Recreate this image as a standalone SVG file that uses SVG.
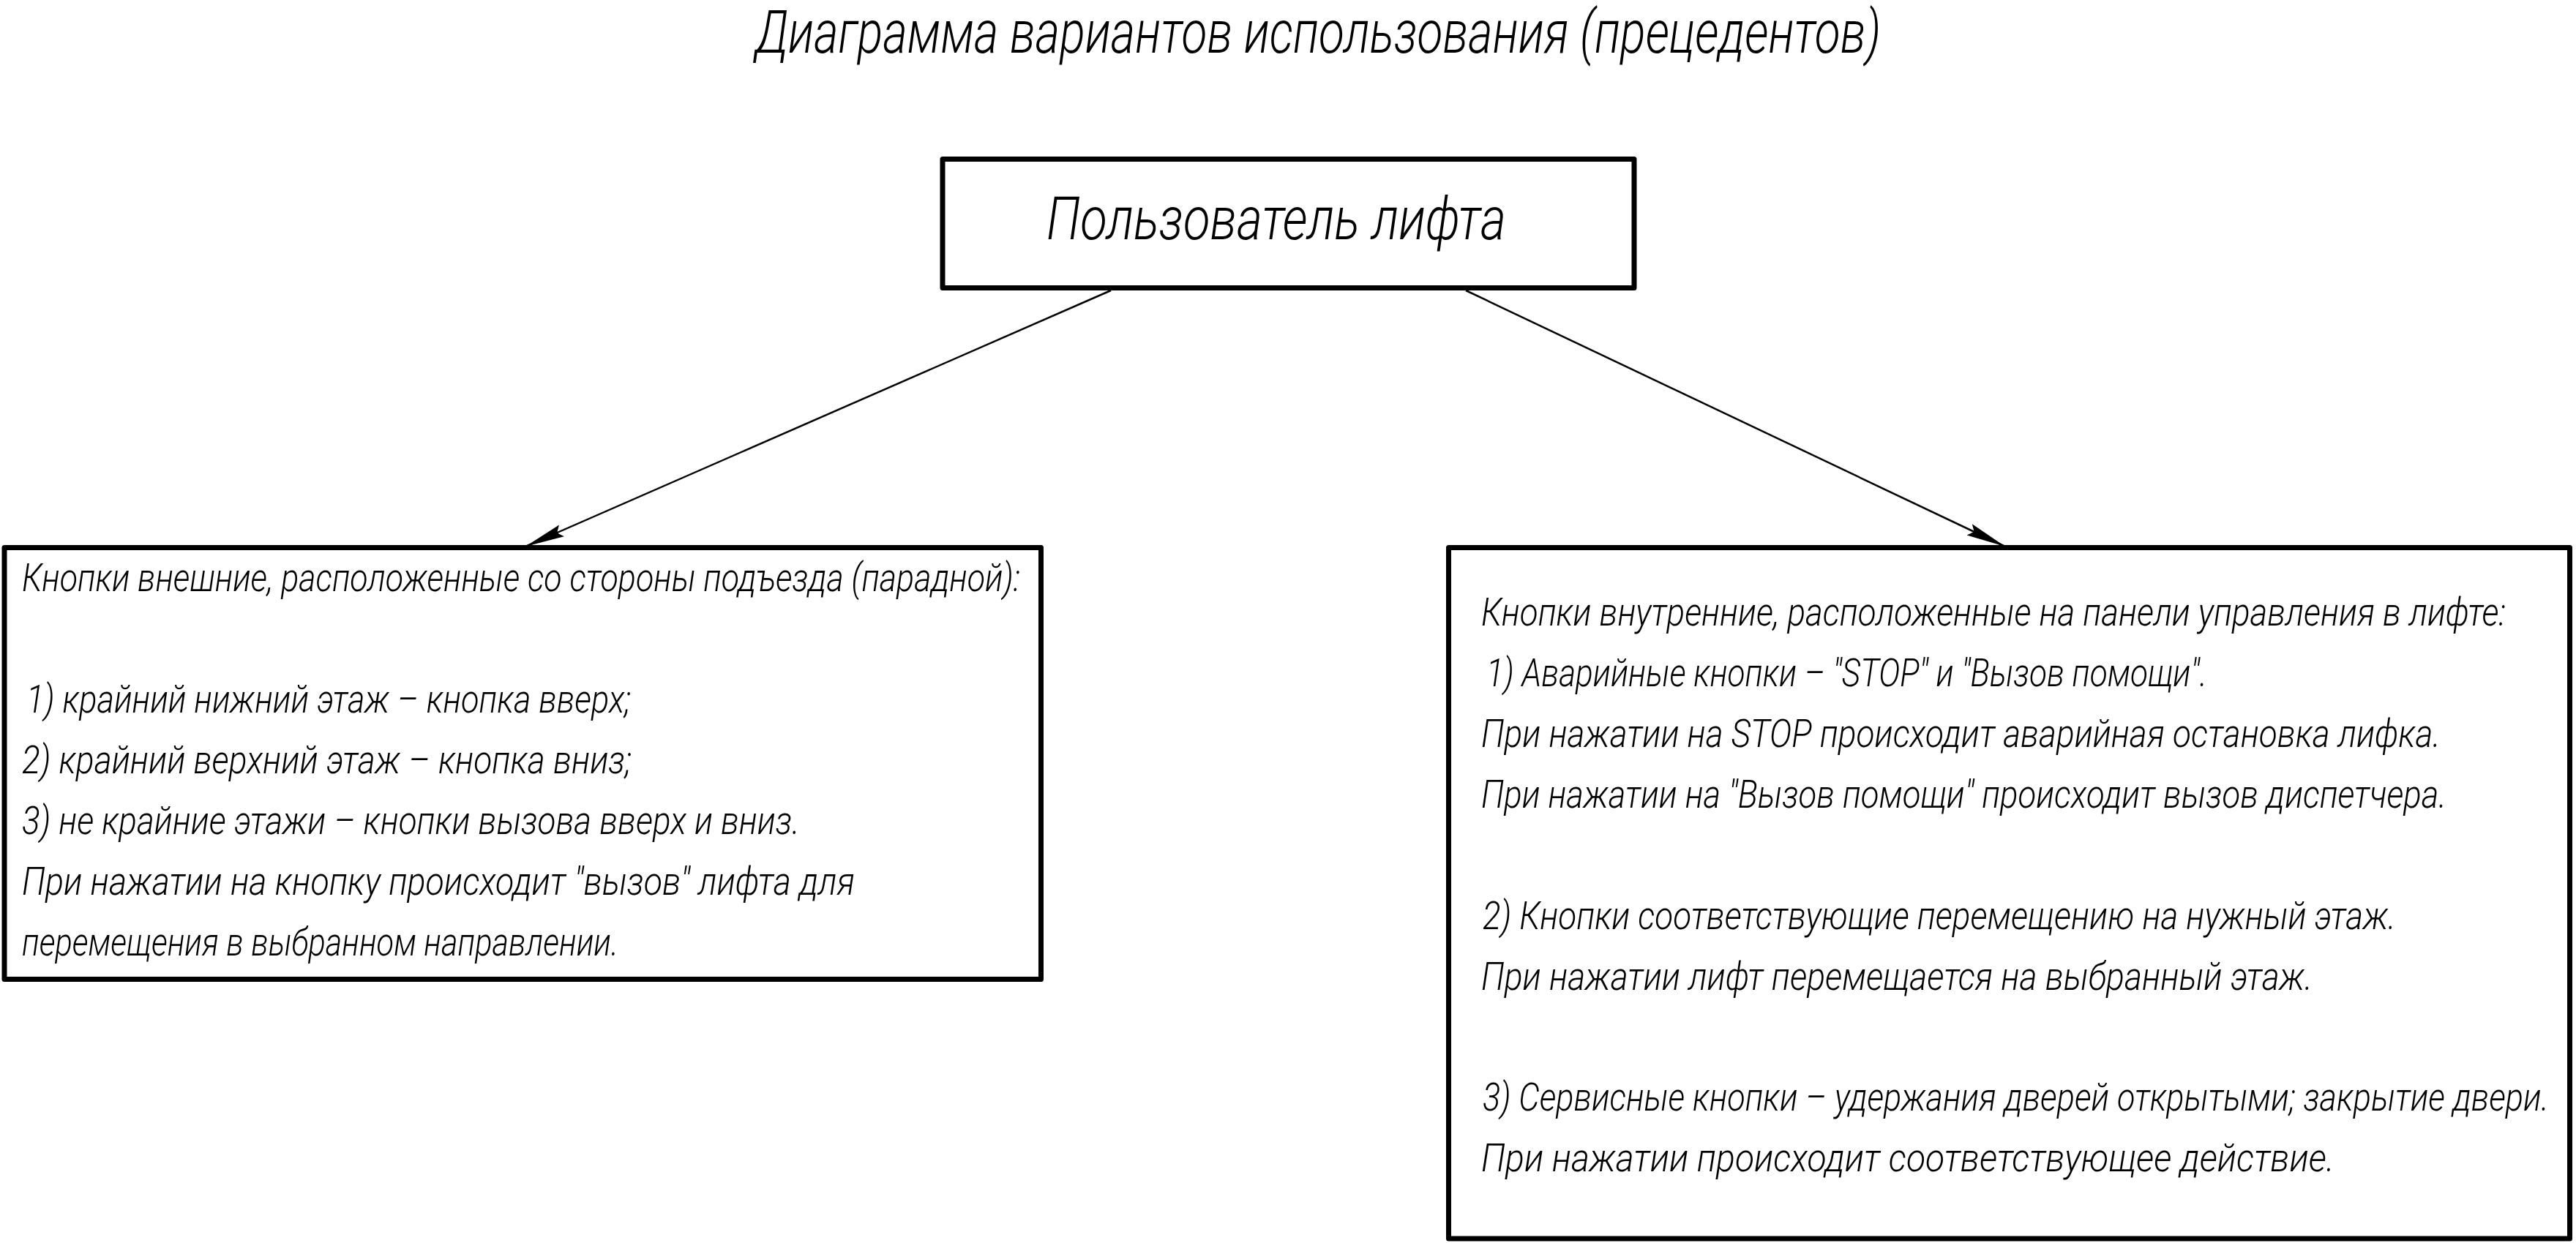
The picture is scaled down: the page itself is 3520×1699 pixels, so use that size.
<svg xmlns="http://www.w3.org/2000/svg" width="3520" height="1699" viewBox="0 0 3520 1699">
<style>
.box{fill:#fff;stroke:#000;stroke-width:7;stroke-linejoin:round}
.t{font-family:"Roboto","Liberation Sans",sans-serif;font-style:italic;font-weight:300;fill:#000}
.s{font-size:44px}
.b{font-size:82px}
.conn{stroke:#000;stroke-width:2.5;fill:none}
</style>
<defs>
<marker id="arr" markerUnits="userSpaceOnUse" markerWidth="80" markerHeight="40" viewBox="-70 -20 80 40" refX="0" refY="0" orient="auto">
<path d="M0,0 L-54,-8.5 L-47,0 L-54,8.5 Z" fill="#000"/>
</marker>
</defs>
<rect width="3520" height="1699" fill="#fff"/>
<text class="t b" x="1032" y="72" textLength="1538" lengthAdjust="spacingAndGlyphs">Диаграмма вариантов использования (прецедентов)</text>
<g id="connectors">
<line class="conn" x1="1518" y1="397" x2="718" y2="747" marker-end="url(#arr)"/>
<line class="conn" x1="2003" y1="397" x2="2740" y2="747" marker-end="url(#arr)"/>
</g>
<g id="actor">
<rect class="box" x="1288" y="217.5" width="945" height="176"/>
<text class="t b" x="1430" y="327" textLength="628" lengthAdjust="spacingAndGlyphs">Пользователь лифта</text>
</g>
<g id="external-buttons">
<rect class="box" x="6" y="748.5" width="1416.5" height="590"/>
<g transform="scale(1,1.227273)">
<text class="t s" x="30" y="658.37" textLength="1364" lengthAdjust="spacingAndGlyphs">Кнопки внешние, расположенные со стороны подъезда (парадной):</text>
<text class="t s" x="36" y="793.63" textLength="826" lengthAdjust="spacingAndGlyphs">1) крайний нижний этаж – кнопка вверх;</text>
<text class="t s" x="30" y="861.26" textLength="833" lengthAdjust="spacingAndGlyphs">2) крайний верхний этаж – кнопка вниз;</text>
<text class="t s" x="30" y="928.89" textLength="1063" lengthAdjust="spacingAndGlyphs">3) не крайние этажи – кнопки вызова вверх и вниз.</text>
<text class="t s" x="30" y="996.52" textLength="1138" lengthAdjust="spacingAndGlyphs">При нажатии на кнопку происходит "вызов" лифта для</text>
<text class="t s" x="30" y="1064.15" textLength="815" lengthAdjust="spacingAndGlyphs">перемещения в выбранном направлении.</text>
</g>
</g>
<g id="internal-buttons">
<rect class="box" x="1979.5" y="748.5" width="1532" height="944.5"/>
<g transform="scale(1,1.227273)">
<text class="t s" x="2024" y="696.67" textLength="1400" lengthAdjust="spacingAndGlyphs">Кнопки внутренние, расположенные на панели управления в лифте:</text>
<text class="t s" x="2031" y="764.30" textLength="985" lengthAdjust="spacingAndGlyphs">1) Аварийные кнопки – "STOP" и "Вызов помощи".</text>
<text class="t s" x="2024" y="831.93" textLength="1311" lengthAdjust="spacingAndGlyphs">При нажатии на STOP происходит аварийная остановка лифка.</text>
<text class="t s" x="2024" y="899.56" textLength="1319" lengthAdjust="spacingAndGlyphs">При нажатии на "Вызов помощи" происходит вызов диспетчера.</text>
<text class="t s" x="2026" y="1034.81" textLength="1248" lengthAdjust="spacingAndGlyphs">2) Кнопки соответствующие перемещению на нужный этаж.</text>
<text class="t s" x="2024" y="1102.44" textLength="1136" lengthAdjust="spacingAndGlyphs">При нажатии лифт перемещается на выбранный этаж.</text>
<text class="t s" x="2026" y="1236.89" textLength="1457" lengthAdjust="spacingAndGlyphs">3) Сервисные кнопки – удержания дверей открытыми; закрытие двери.</text>
<text class="t s" x="2024" y="1304.52" textLength="1166" lengthAdjust="spacingAndGlyphs">При нажатии происходит соответствующее действие.</text>
</g>
</g>
</svg>
